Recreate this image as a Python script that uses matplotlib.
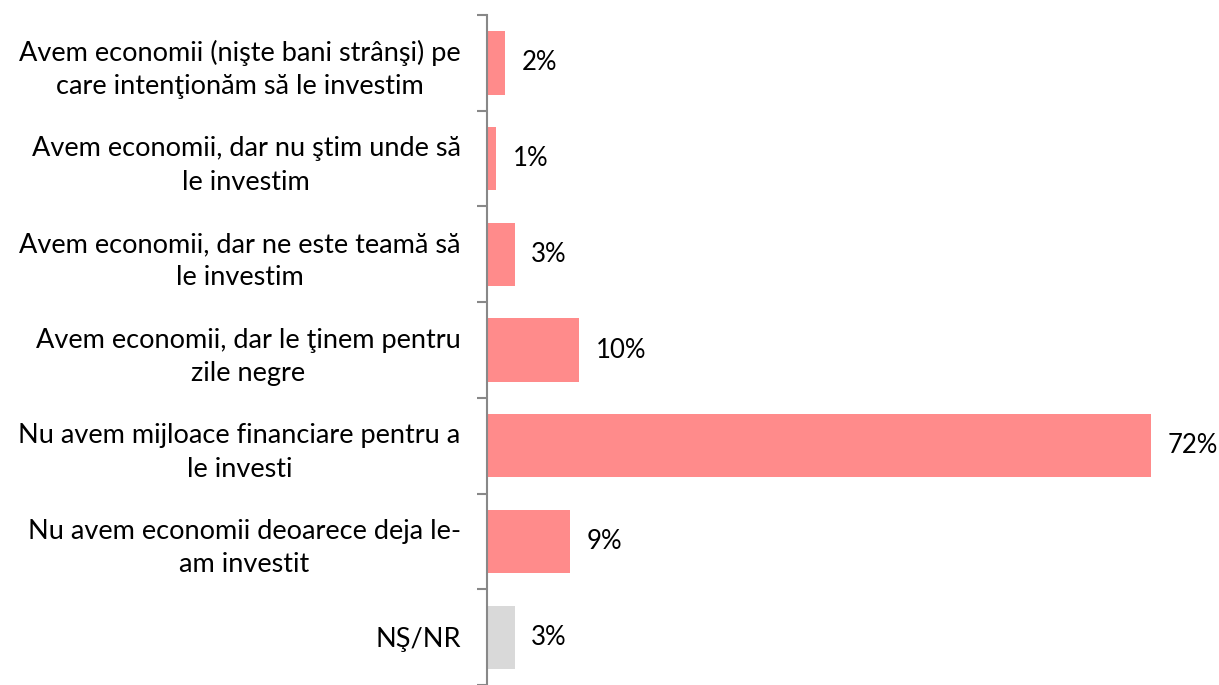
import matplotlib.pyplot as plt
import numpy as np

plt.rcParams['font.family'] = ['Lato', 'DejaVu Sans']

categories = [
    "Avem economii (nişte bani strânşi) pe\ncare intenţionăm să le investim",
    "Avem economii, dar nu ştim unde să\nle investim",
    "Avem economii, dar ne este teamă să\nle investim",
    "Avem economii, dar le ţinem pentru\nzile negre",
    "Nu avem mijloace financiare pentru a\nle investi",
    "Nu avem economii deoarece deja le-\nam investit",
    "NŞ/NR",
]
values = [2, 1, 3, 10, 72, 9, 3]
labels = ["2%", "1%", "3%", "10%", "72%", "9%", "3%"]

pink = '#FF8B8B'
grey = '#D9D9D9'
colors = [pink] * 6 + [grey]

fig = plt.figure(figsize=(12.19, 6.85), dpi=100)
ax = fig.add_axes([0.3995, 0.0, 0.59, 0.978])

y = np.arange(len(categories))
ax.barh(y, values, height=0.66, color=colors)

for yi, v, lab in zip(y, values, labels):
    ax.annotate(lab, (v, yi), xytext=(12, 0), textcoords='offset points',
                ha='left', va='center', fontsize=18.5, color='black')

ax.set_ylim(len(categories) - 0.5, -0.5)
ax.set_xlim(0, 78)

for s in ['top', 'right', 'bottom']:
    ax.spines[s].set_visible(False)
ax.spines['left'].set_color('#888888')
ax.spines['left'].set_linewidth(1.5)

ax.set_xticks([])
ax.set_yticks(y)
ax.set_yticklabels(categories, fontsize=19.5, multialignment='center',
                   linespacing=1.42)
ax.tick_params(axis='y', which='major', length=0, pad=19)
ax.set_yticks(np.arange(len(categories) + 1) - 0.5, minor=True)
ax.tick_params(axis='y', which='minor', length=7, width=1.5, color='#888888')

fig.savefig('out.png', dpi=100)
